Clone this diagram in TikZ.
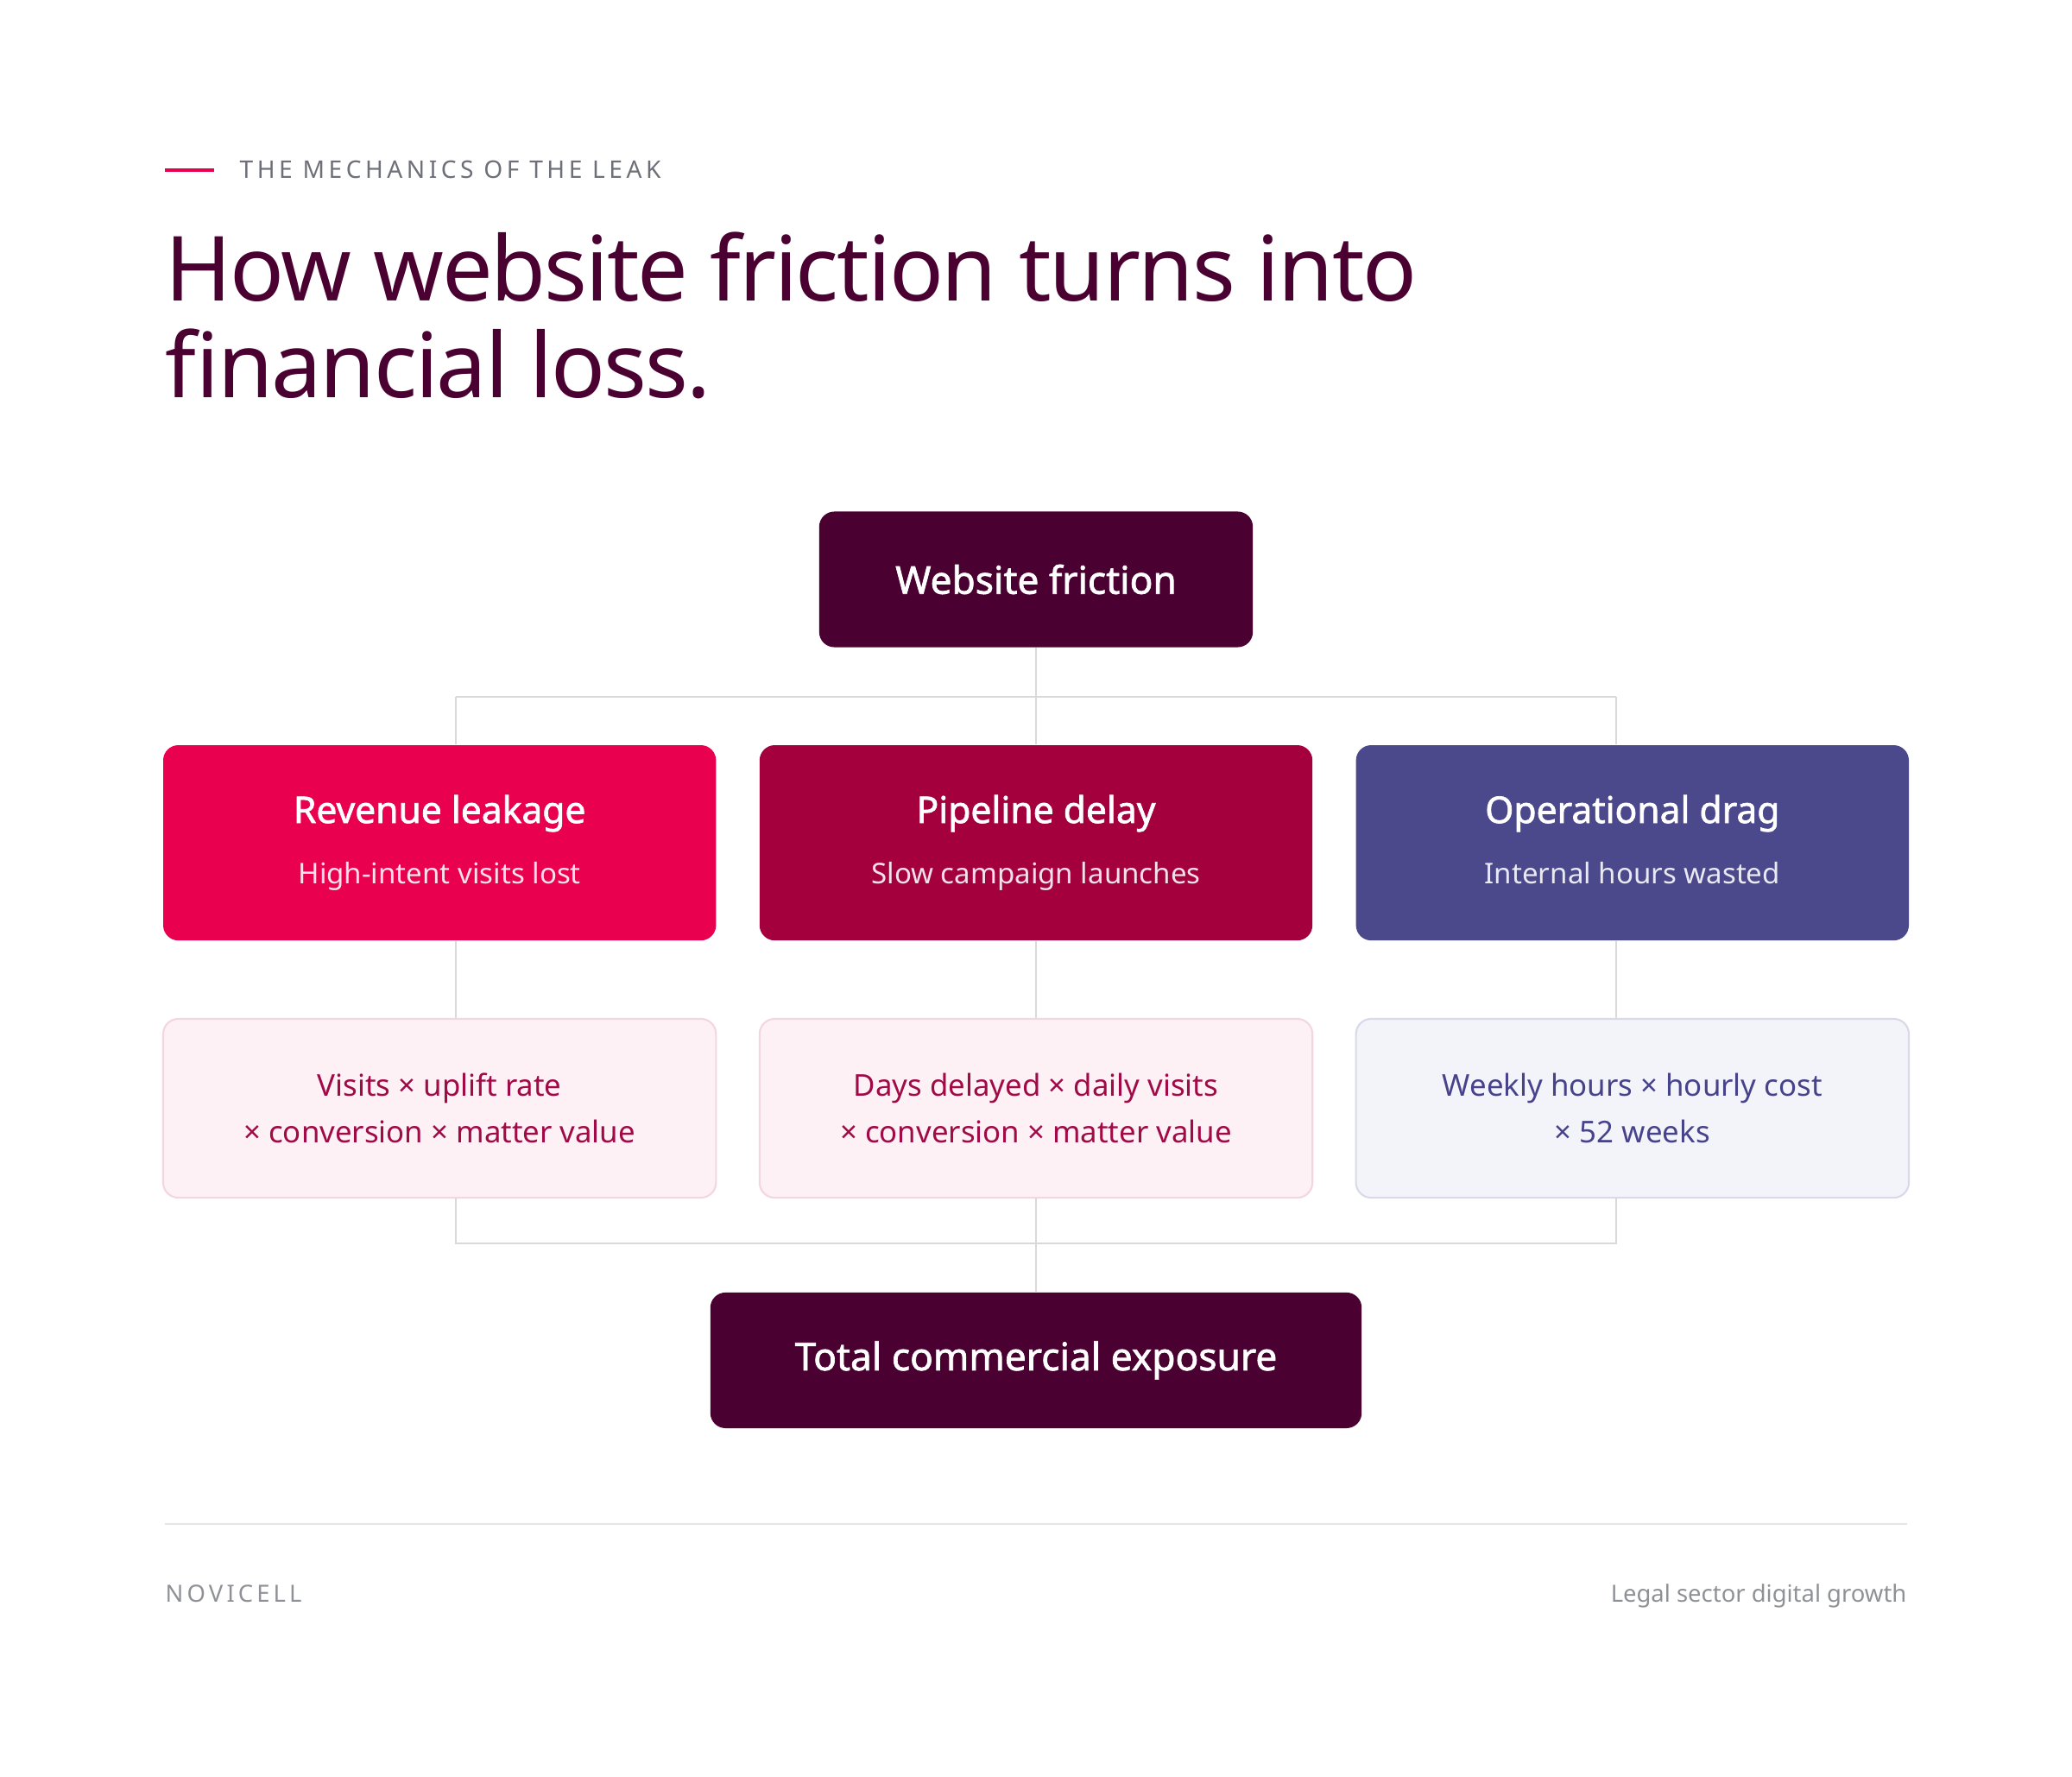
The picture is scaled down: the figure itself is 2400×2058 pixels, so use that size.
\documentclass[tikz,border=0pt]{standalone}
\usepackage{fontspec}
\setmainfont{Noto Sans}
\newfontfamily\semibold{Noto Sans}[FakeBold=1.6]
\usetikzlibrary{positioning}

\definecolor{plum}{HTML}{4A0030}
\definecolor{rose}{HTML}{E9004F}
\definecolor{crimson}{HTML}{A4003D}
\definecolor{indigo}{HTML}{4B488C}
\definecolor{pinkfill}{HTML}{FDF1F5}
\definecolor{pinkedge}{HTML}{F4D6E1}
\definecolor{lilacfill}{HTML}{F3F3FA}
\definecolor{lilacedge}{HTML}{DAD9EA}
\definecolor{pinktext}{HTML}{A00A46}
\definecolor{indigotext}{HTML}{46438A}
\definecolor{wiregray}{HTML}{D9D9D9}
\definecolor{eyegray}{HTML}{6E7079}
\definecolor{footgray}{HTML}{8F9197}

\newcommand{\cardtitle}[1]{{\semibold\fontsize{12.1pt}{15pt}\selectfont #1\vphantom{Hg}}}

\begin{document}
\begin{tikzpicture}[x=0.01cm,y=-0.01cm,node distance=1.12cm,
	wire/.style={draw=wiregray,line width=0.6pt},
	darkbox/.style={fill=plum,rounded corners=5pt,text=white,inner sep=0pt,
		minimum height=1.57cm,font=\semibold\fontsize{12.6pt}{15pt}\selectfont},
	card/.style={rounded corners=5pt,text=white,inner sep=0pt,align=center,
		minimum width=6.4cm,minimum height=2.26cm,font=\fontsize{9.4pt}{13pt}\selectfont},
	calc/.style={rounded corners=5pt,inner sep=0pt,align=center,line width=0.6pt,
		minimum width=6.4cm,minimum height=2.07cm,font=\fontsize{9.9pt}{15.4pt}\selectfont},
	pinkcalc/.style={calc,fill=pinkfill,draw=pinkedge,text=pinktext},
	lilaccalc/.style={calc,fill=lilacfill,draw=lilacedge,text=indigotext}]
	\fill[white] (0,0) rectangle (2400,2058);
	\useasboundingbox (0,0) rectangle (2400,2058);

	% heading
	\draw[rose,line width=1.1pt] (191,197) -- (248,197);
	\node[anchor=base west,inner sep=0pt,text=eyegray,
		font=\fontsize{8pt}{10pt}\selectfont\addfontfeatures{LetterSpace=16}] (eyebrow) at (277,207) {THE MECHANICS OF THE LEAK};
	\node[anchor=base west,inner sep=0pt,text=plum,
		font=\fontsize{29.6pt}{32pt}\selectfont\addfontfeatures{LetterSpace=-2}] (title) at (191,349) {How website friction turns into};
	\node[anchor=base west,inner sep=0pt,text=plum,
		font=\fontsize{29.6pt}{32pt}\selectfont\addfontfeatures{LetterSpace=-2}] (title2) at (191,461) {financial loss.};

	% boxes
	\node[darkbox,minimum width=5.02cm] (friction) at (1200,671) {Website friction};
	\node[card,fill=crimson,below=of friction] (pipe) {\cardtitle{Pipeline delay}\\[7pt]\textcolor{white!88!crimson}{Slow campaign launches\vphantom{Hg}}};
	\node[card,fill=rose,left=0.49cm of pipe] (rev) {\cardtitle{Revenue leakage}\\[7pt]\textcolor{white!88!rose}{High-intent visits lost\vphantom{Hg}}};
	\node[card,fill=indigo,right=0.49cm of pipe] (ops) {\cardtitle{Operational drag}\\[7pt]\textcolor{white!88!indigo}{Internal hours wasted\vphantom{Hg}}};
	\node[pinkcalc,below=0.89cm of rev] (revcalc) {Visits × uplift rate\\× conversion × matter value};
	\node[pinkcalc,below=0.89cm of pipe] (pipecalc) {Days delayed × daily visits\\× conversion × matter value};
	\node[lilaccalc,below=0.89cm of ops] (opscalc) {Weekly hours × hourly cost\\× 52 weeks};
	\node[darkbox,minimum width=7.54cm,below=1.08cm of pipecalc] (total) {Total commercial exposure};

	% connectors
	\coordinate (busT) at (1200,807);
	\coordinate (busTL) at (528,807);
	\coordinate (busTR) at (1872,807);
	\coordinate (busB) at (1200,1440);
	\coordinate (busBL) at (528,1440);
	\coordinate (busBR) at (1872,1440);
	\draw[wire] (friction) -- (busT);
	\draw[wire] (busTL) -- (busTR);
	\draw[wire] (busTL) -- (busTL |- rev.north);
	\draw[wire] (busT) -- (pipe);
	\draw[wire] (busTR) -- (busTR |- ops.north);
	\draw[wire] (busTL |- rev.south) -- (busTL |- revcalc.north);
	\draw[wire] (pipe) -- (pipecalc);
	\draw[wire] (busTR |- ops.south) -- (busTR |- opscalc.north);
	\draw[wire] (busBL |- revcalc.south) -- (busBL) -- (busBR) -- (busBR |- opscalc.south);
	\draw[wire] (pipecalc) -- (busB) -- (total);

	% footer
	\draw[draw=black!10,line width=0.6pt] (191,1765) -- (2209,1765);
	\node[anchor=base west,inner sep=0pt,text=footgray,
		font=\fontsize{7.8pt}{10pt}\selectfont\addfontfeatures{LetterSpace=15}] (brand) at (191,1855) {NOVICELL};
	\node[anchor=base east,inner sep=0pt,text=footgray,font=\fontsize{7.8pt}{10pt}\selectfont] (tagline) at (2209,1855) {Legal sector digital growth};
\end{tikzpicture}
\end{document}
